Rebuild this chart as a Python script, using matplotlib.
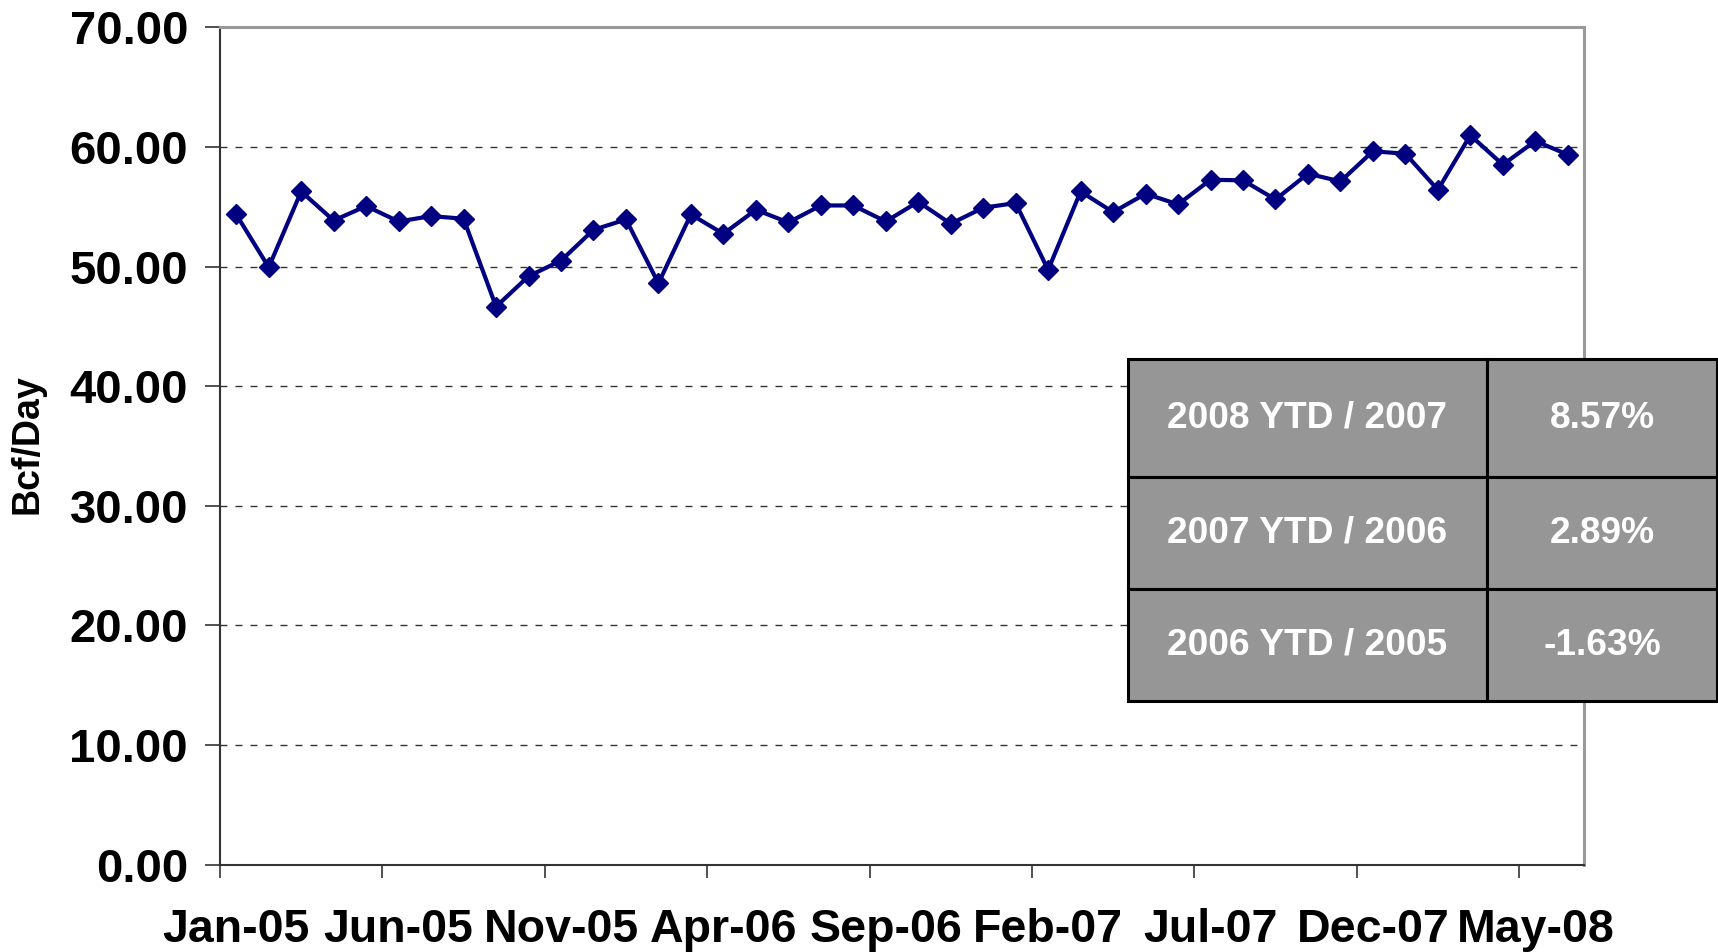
import numpy as np
import matplotlib
matplotlib.use("Agg")
from matplotlib import pyplot as plt

plt.rcParams['font.family'] = ['Liberation Sans', 'DejaVu Sans']
plt.rcParams['font.weight'] = 'bold'

# monthly values, Jan-05 .. Jun-08 (Bcf/Day)
values = [54.36, 49.94, 56.28, 53.85, 55.06, 53.77, 54.22, 54.00, 46.65, 49.19,
          50.50, 53.07, 53.94, 48.60, 54.36, 52.74, 54.75, 53.69, 55.11, 55.11,
          53.77, 55.42, 53.58, 54.92, 55.31, 49.72, 56.28, 54.55, 56.09, 55.20,
          57.26, 57.21, 55.61, 57.77, 57.12, 59.64, 59.44, 56.42, 60.98, 58.52,
          60.50, 59.36]
tick_labels = ['Jan-05', 'Jun-05', 'Nov-05', 'Apr-06', 'Sep-06',
               'Feb-07', 'Jul-07', 'Dec-07', 'May-08']
label_step = 5

table_rows = ['2008 YTD / 2007', '2007 YTD / 2006', '2006 YTD / 2005']
table_vals = ['8.57%', '2.89%', '-1.63%']

W, H = 1718, 952
fig = plt.figure(figsize=(W / 100, H / 100), dpi=100)
ax = fig.add_axes([220 / W, 1 - 864.5 / H, 1364 / W, 837.1 / H])

x = np.arange(len(values))
ax.plot(x, values, color='#000080', lw=3, marker='D', ms=10.5,
        mec='#000080', mfc='#000080', zorder=3)

ax.set_xlim(-0.5, len(values) - 0.5)
ax.set_ylim(0, 70)

# y axis
yt = np.arange(0, 71, 10)
ax.set_yticks(yt)
ax.set_yticklabels(['%.2f' % v for v in yt], fontsize=34, fontweight='bold')
ax.tick_params(axis='y', which='major', length=11, width=1.2, color='#333333', pad=12)
for v in yt[1:-1]:
    ax.axhline(v, color='#333333', lw=1, ls=(0, (5, 5.8)), zorder=1)

# x axis: labels at category centres, ticks at category boundaries
lab_pos = x[::label_step]
ax.set_xticks(lab_pos)
ax.set_xticklabels(tick_labels, fontsize=33.5, fontweight='bold')
ax.tick_params(axis='x', which='major', length=0, pad=31)
ax.set_xticks(np.arange(-0.5, len(values) - 1, label_step), minor=True)
ax.tick_params(axis='x', which='minor', length=9.5, width=1.2, color='#333333')

ax.set_ylabel('Bcf/Day', fontsize=27, fontweight='bold', labelpad=0)
ax.yaxis.set_label_coords(-0.1276, 0.502)

for s in ['left', 'bottom']:
    ax.spines[s].set_color('#333333')
    ax.spines[s].set_linewidth(1.5)
for s in ['top', 'right']:
    ax.spines[s].set_color('#999999')
    ax.spines[s].set_linewidth(2.2)

# summary table
x0 = (1127.5 - 220) / 1364
x1 = (1717 - 220) / 1364
y0 = (864.5 - 701.3) / 837.1
y1 = (864.5 - 359.4) / 837.1
row_h = [118, 112, 112]
cells = [[r, v] for r, v in zip(table_rows, table_vals)]
tab = ax.table(cellText=cells, cellLoc='center', colWidths=[0.61, 0.39],
               bbox=[x0, y0, x1 - x0, y1 - y0], zorder=5)
tab.auto_set_font_size(False)
for (r, c), cell in tab.get_celld().items():
    cell.set_height(row_h[r] / 1000)
    cell.set_facecolor('#969696')
    cell.set_edgecolor('black')
    cell.set_linewidth(2.2)
    cell.get_text().set_color('white')
    cell.get_text().set_fontsize(26.7)
    cell.get_text().set_fontweight('bold')
tab.set_clip_on(False)

fig.savefig('out.png', dpi=100)
